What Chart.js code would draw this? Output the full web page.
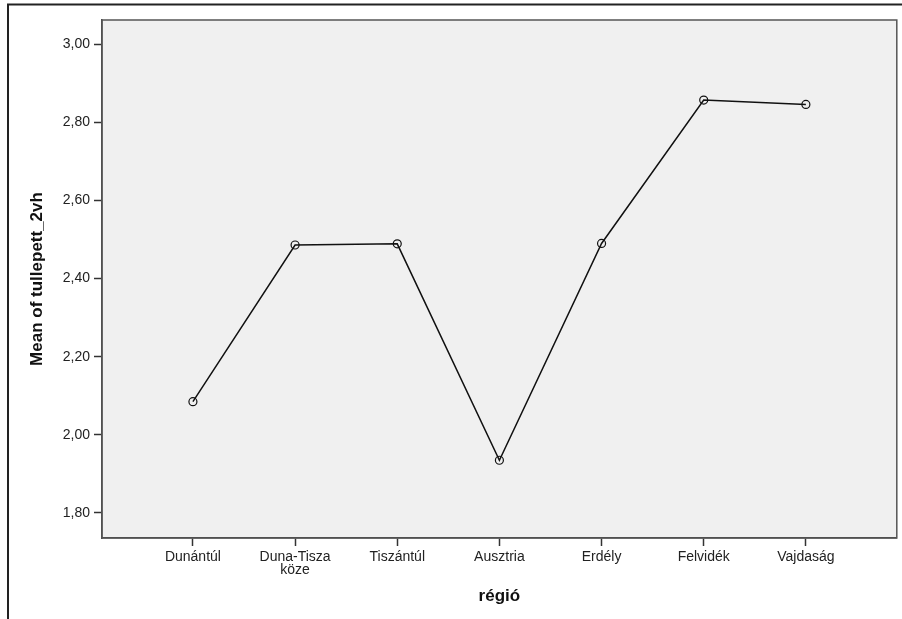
<!DOCTYPE html>
<html>
<head>
<meta charset="utf-8">
<script src="https://cdn.jsdelivr.net/npm/chart.js@4.4.1/dist/chart.umd.min.js"></script>
<style>
  html, body { margin: 0; padding: 0; background: #ffffff; }
  #wrap { position: relative; width: 902px; height: 619px; }
</style>
</head>
<body>
<div id="wrap"><canvas id="c" width="902" height="619"></canvas></div>
<script>
const categories = ["Dunántúl", ["Duna-Tisza", "köze"], "Tiszántúl", "Ausztria", "Erdély", "Felvidék", "Vajdaság"];
const meanValues = [2.085, 2.486, 2.489, 1.935, 2.490, 2.857, 2.846];
const yTicks = [1.8, 2.0, 2.2, 2.4, 2.6, 2.8, 3.0];
const xTitle = "régió";
const yTitle = "Mean of tullepett_2vh";

const points = meanValues.map((v, i) => ({ x: i, y: v }));

const framePlugin = {
  id: 'frame',
  beforeInit(chart) {
    try { chart.ctx.letterSpacing = '0.6px'; } catch (e) {}
  },
  beforeDraw(chart) {
    const { ctx, chartArea: a } = chart;
    ctx.save();
    ctx.fillStyle = '#f0f0f0';
    ctx.fillRect(a.left, a.top, a.right - a.left, a.bottom - a.top);
    ctx.restore();
  },
  afterDraw(chart) {
    const { ctx, chartArea: a } = chart;
    ctx.save();
    ctx.strokeStyle = '#555555';
    ctx.lineWidth = 1.5;
    ctx.strokeRect(a.left, a.top, a.right - a.left, a.bottom - a.top);
    ctx.strokeStyle = '#222222';
    ctx.lineWidth = 2;
    ctx.beginPath();
    ctx.moveTo(8, 619);
    ctx.lineTo(8, 4.5);
    ctx.lineTo(902, 4.5);
    ctx.stroke();
    ctx.restore();
  }
};

const tickFont = { family: 'Liberation Sans, Arial, sans-serif', size: 14, lineHeight: '13px' };
const titleFont = { family: 'Liberation Sans, Arial, sans-serif', size: 17, weight: 'bold' };

new Chart(document.getElementById('c'), {
  type: 'line',
  data: {
    datasets: [{
      data: points,
      borderColor: '#111111',
      borderWidth: 1.5,
      pointRadius: 4,
      pointBorderWidth: 1.2,
      pointBorderColor: '#111111',
      pointBackgroundColor: 'rgba(0,0,0,0)',
      fill: false,
      tension: 0
    }]
  },
  options: {
    responsive: false,
    animation: false,
    layout: { padding: { left: 0, top: 20, right: 4, bottom: 0 } },
    plugins: { legend: { display: false }, tooltip: { enabled: false } },
    scales: {
      x: {
        type: 'linear',
        min: -0.89,
        max: 6.89,
        afterFit(scale) { scale.height = 81; },
        afterBuildTicks(scale) { scale.ticks = categories.map((c, i) => ({ value: i })); },
        grid: { drawOnChartArea: false, drawTicks: true, tickLength: 8, tickColor: '#333333', tickWidth: 1.5 },
        border: { display: true, color: '#444444', width: 1.5 },
        ticks: {
          autoSkip: false,
          maxRotation: 0,
          padding: 5,
          color: '#222222',
          font: tickFont,
          callback: (v) => categories[v]
        },
        title: {
          display: true,
          text: xTitle,
          color: '#111111',
          font: titleFont,
          padding: { top: 0, bottom: 12 }
        }
      },
      y: {
        type: 'linear',
        min: 1.736,
        max: 3.062,
        afterFit(scale) { scale.width = 102; },
        afterBuildTicks(scale) { scale.ticks = yTicks.map(v => ({ value: v })); },
        grid: { drawOnChartArea: false, drawTicks: true, tickLength: 8, tickColor: '#333333', tickWidth: 1.5 },
        border: { display: true, color: '#444444', width: 1.5 },
        ticks: {
          padding: 4,
          color: '#222222',
          font: tickFont,
          callback: (v) => v.toFixed(2).replace('.', ',')
        },
        title: {
          display: true,
          text: yTitle,
          color: '#111111',
          font: titleFont,
          padding: { top: 27, bottom: 0 }
        }
      }
    }
  },
  plugins: [framePlugin]
});
</script>
</body>
</html>
